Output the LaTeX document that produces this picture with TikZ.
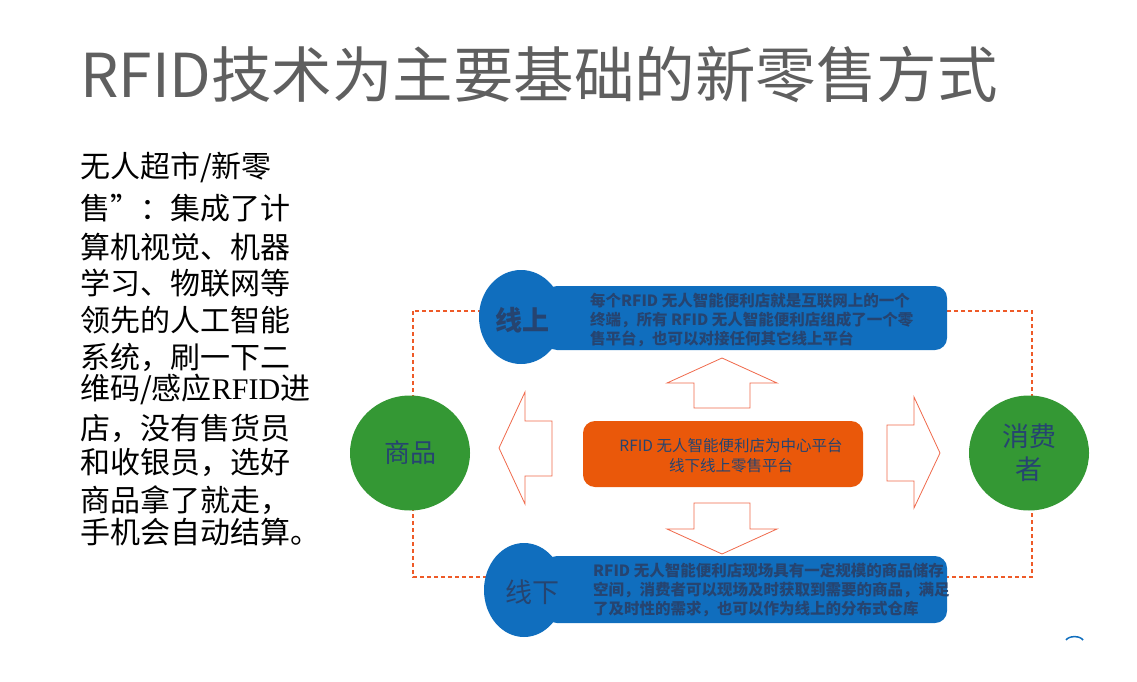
\documentclass[tikz,border=0pt]{standalone}
\usepackage{fontspec}
\setmainfont{Noto Sans CJK SC}
\newfontfamily\lserif{Liberation Serif}
\usetikzlibrary{shapes.geometric}
\definecolor{titlegray}{RGB}{95,95,95}
\definecolor{boxblue}{RGB}{16,110,190}
\definecolor{ballgreen}{RGB}{52,152,52}
\definecolor{hubred}{RGB}{234,88,10}
\definecolor{txtblue}{RGB}{38,68,112}
\definecolor{arrowred}{RGB}{240,105,75}
\definecolor{dashred}{RGB}{238,90,40}
\begin{document}
\begin{tikzpicture}[x=1pt,y=-1pt,
  ball/.style={ellipse, inner sep=0pt, text=txtblue},
  bluebox/.style={rectangle, rounded corners=12pt, fill=boxblue, inner sep=0pt},
  blockarrow/.style={draw=arrowred, line width=0.8pt, line join=miter, fill=white},
  leftline/.style={anchor=west, inner sep=0pt, text=black, font=\fontsize{30}{30}\selectfont},
  boxtext/.style={anchor=west, inner sep=0pt, align=left, text=txtblue, font=\bfseries\fontsize{15.5}{19}\selectfont},
  border/.style={draw=dashred, dash pattern=on 4pt off 3pt, line width=1.1pt}]
\useasboundingbox (0,0) rectangle (1137,682);

% title
\node[anchor=west, inner sep=0pt, text=titlegray, font=\fontsize{60.5}{60.5}\selectfont] (title) at (80,75) {RFID技术为主要基础的新零售方式};

% left paragraph
\node[leftline] (l1) at (80,167) {无人超市/新零};
\node[leftline] (l2) at (80,208) {售”：集成了计};
\node[leftline] (l3) at (80,247) {算机视觉、机器};
\node[leftline] (l4) at (80,283) {学习、物联网等};
\node[leftline] (l5) at (80,320) {领先的人工智能};
\node[leftline] (l6) at (80,357) {系统，刷一下二};
\node[leftline] (l7) at (80,389) {维码/感应{\lserif RFID}进};
\node[leftline] (l8) at (80,428) {店，没有售货员};
\node[leftline] (l9) at (80,463) {和收银员，选好};
\node[leftline] (l10) at (80,500) {商品拿了就走，};
\node[leftline] (l11) at (80,532) {手机会自动结算。};

% dashed frame
\coordinate (bTL) at (413,311);
\coordinate (bBR) at (1032,577);
\draw[border] (bTL) rectangle (bBR);

% block arrows
\draw[blockarrow] (552,421) -- (525,421) -- (525,392) -- (499,448) -- (525,504) -- (525,476) -- (552,476) -- cycle;
\draw[blockarrow] (887,425) -- (914,425) -- (914,397) -- (940,453) -- (914,508) -- (914,481) -- (887,481) -- cycle;
\draw[blockarrow] (694,408) -- (694,383) -- (667,383) -- (722,358) -- (777,383) -- (750,383) -- (750,408) -- cycle;
\draw[blockarrow] (694,503) -- (694,529) -- (667,529) -- (722,554) -- (777,529) -- (750,529) -- (750,503) -- cycle;

% hub
\node[rectangle, rounded corners=12pt, fill=hubred, inner sep=0pt, minimum width=280pt, minimum height=66pt] (hub) at (723,454) {};
\node[inner sep=0pt, align=center, text=txtblue, font=\fontsize{15.5}{20}\selectfont] (hubtext) at (731,456) {RFID 无人智能便利店为中心平台\\线下线上零售平台};

% online
\node[bluebox, minimum width=402pt, minimum height=64pt] (onbox) at (746,318) {};
\node[ball, fill=boxblue, minimum width=84pt, minimum height=94pt] (online) at (521,317) {};
\node[inner sep=0pt, text=txtblue, font=\bfseries\fontsize{27}{27}\selectfont] (ontext) at (522,320) {线上};
\node[boxtext] (ondesc) at (590,320) {每个RFID 无人智能便利店就是互联网上的一个\\终端，所有 RFID 无人智能便利店组成了一个零\\售平台，也可以对接任何其它线上平台};

% offline
\node[bluebox, minimum width=402pt, minimum height=67pt] (offbox) at (746,589.5) {};
\node[ball, fill=boxblue, minimum width=80pt, minimum height=94pt] (offline) at (524,590) {};
\node[inner sep=0pt, text=txtblue, font=\fontsize{27}{27}\selectfont] (offtext) at (532,592) {线下};
\node[boxtext] (offdesc) at (593,590) {RFID 无人智能便利店现场具有一定规模的商品储存\\空间，消费者可以现场及时获取到需要的商品，满足\\了及时性的需求，也可以作为线上的分布式仓库};

% goods & consumers
\node[ball, fill=ballgreen, minimum width=120pt, minimum height=115pt, font=\fontsize{26}{26}\selectfont] (goods) at (410,453) {商品};
\node[ball, fill=ballgreen, minimum width=120pt, minimum height=115pt, align=center, font=\fontsize{27}{33}\selectfont] (consumer) at (1029,453) {消费\\者};

% small arc bottom right
\coordinate (arcA) at (1066,640);
\coordinate (arcB) at (1083,640);
\draw[boxblue, line width=1.5pt] (arcA) .. controls (1069,635.5) and (1080,635.5) .. (arcB);
\end{tikzpicture}
\end{document}
